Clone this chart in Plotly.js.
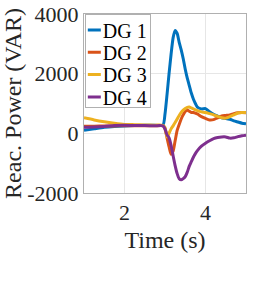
<!DOCTYPE html>
<html><head><meta charset="utf-8">
<script src="https://cdn.plot.ly/plotly-3.0.1.min.js"></script>
<style>html,body{margin:0;padding:0;background:#fff}#c{width:269px;height:299px}</style>
</head><body><div id="c"></div>
<script>
const time = [1.0,1.25,1.5,1.75,2.0,2.25,2.5,2.75,2.95,3.0,3.05,3.1,3.15,3.2,3.25,3.3,3.35,3.4,3.45,3.5,3.55,3.6,3.65,3.7,3.75,3.8,3.9,4.0,4.1,4.2,4.3,4.4,4.5,4.6,4.7,4.8,4.9,5.0];
const dg1 = [100,150,200,230,250,260,270,270,275,650,1300,2000,2650,3200,3450,3350,3050,2800,2500,2150,1850,1600,1350,1150,1000,880,820,830,720,640,580,520,500,470,420,380,340,320];
const dg2 = [240,240,245,250,255,255,255,255,255,150,-150,-450,-700,-600,-250,100,300,480,620,730,780,740,700,700,680,650,560,500,450,460,520,580,600,620,660,690,700,690];
const dg3 = [520,450,390,340,300,290,280,275,270,200,-120,0,150,250,360,480,600,700,780,830,870,880,850,820,790,760,720,700,660,620,570,520,510,560,620,680,700,700];
const dg4 = [200,210,230,260,270,260,260,255,250,150,-50,-150,-400,-750,-1080,-1350,-1520,-1560,-1520,-1450,-1300,-1100,-950,-800,-680,-580,-430,-330,-250,-180,-140,-120,-120,-160,-150,-110,-80,-60];
const names = ['DG 1','DG 2','DG 3','DG 4'];
const colors = ['#0072BD','#D95319','#EDB120','#7E2F8E'];
const series = [dg1,dg2,dg3,dg4];
const xTicks = [2,4];
const yTicks = [-2000,0,2000,4000];

const fam = 'Liberation Serif';
const traces = series.map((s,i)=>({x:time,y:s,name:names[i],type:'scatter',mode:'lines',
  line:{color:colors[i],width:3,shape:'spline',smoothing:0.6}}));
const layout = {
  width:269,height:299,margin:{l:84,r:23,t:14,b:106},
  paper_bgcolor:'#fff',plot_bgcolor:'#fff',
  font:{family:fam,color:'#262626',size:22},
  xaxis:{range:[1,5],tickvals:xTicks,ticktext:xTicks.map(String),showgrid:true,gridcolor:'#e6e6e6',
    showline:true,mirror:true,linecolor:'#b0b0b0',linewidth:1,zeroline:false,ticks:'',
    tickfont:{family:fam,size:22,color:'#262626'},title:{text:'Time (s)',font:{family:fam,size:24,color:'#262626'},standoff:6}},
  yaxis:{range:[-2000,4000],tickvals:yTicks,ticktext:yTicks.map(String),showgrid:true,gridcolor:'#e6e6e6',
    showline:true,mirror:true,linecolor:'#b0b0b0',linewidth:1,zeroline:false,ticks:'',
    tickfont:{family:fam,size:22,color:'#262626'},title:{text:'Reac. Power (VAR)',font:{family:fam,size:24,color:'#262626'},standoff:2}},
  showlegend:true,
  legend:{x:0.005,y:1,xanchor:'left',yanchor:'top',bgcolor:'#fff',bordercolor:'#b0b0b0',borderwidth:1,
    font:{family:fam,size:20,color:'#000'},itemwidth:30,tracegroupgap:0}
};
Plotly.newPlot('c',traces,layout,{staticPlot:true,displayModeBar:false}).then(()=>{
  const leg = document.querySelector('.legend');
  if(!leg) return;
  leg.querySelectorAll('path.js-line').forEach(p=>p.setAttribute('d','M2,0h13'));
  let maxW = 0;
  leg.querySelectorAll('text.legendtext').forEach(t=>{
    t.setAttribute('x',17);
    t.style.fontFamily = "'Liberation Serif', serif";
    maxW=Math.max(maxW,t.getBBox().width);
  });
  const gap = 22.3, first = 16;
  leg.querySelectorAll('g.traces').forEach((g,i)=>{
    const m = /translate\(([-\d.]+)[ ,]+([-\d.]+)\)/.exec(g.getAttribute('transform')||'');
    const x = m ? m[1] : 1;
    g.setAttribute('transform','translate('+x+','+(first+i*gap)+')');
  });
  const bg = leg.querySelector('rect.bg');
  if(bg){ bg.setAttribute('width', 17+maxW+4); bg.setAttribute('height', 93); }
});
</script></body></html>
